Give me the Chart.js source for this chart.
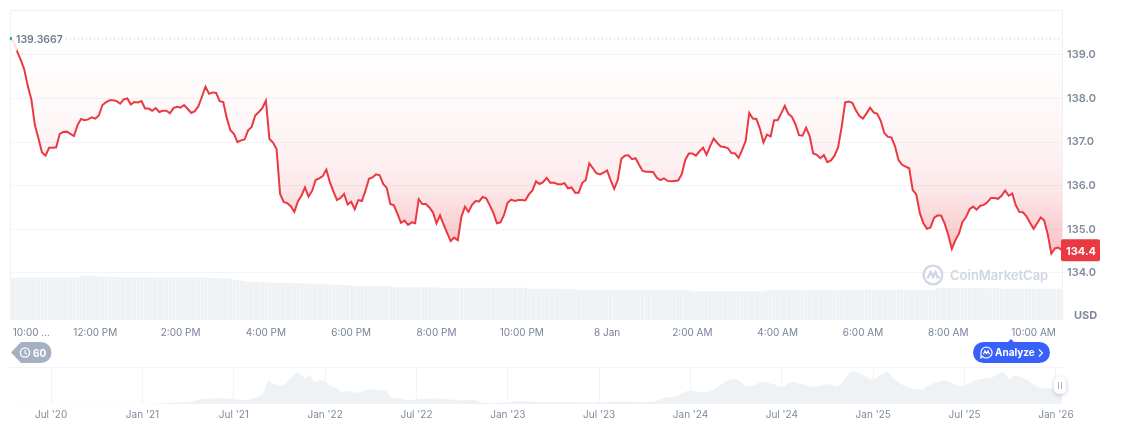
<!DOCTYPE html>
<html>
<head>
<meta charset="utf-8">
<title>Price chart</title>
<script src="https://cdn.jsdelivr.net/npm/chart.js@4"></script>
<style>
  html, body { margin: 0; padding: 0; background: #fff; }
  body { width: 1128px; height: 439px; position: relative; overflow: hidden; font-family: Inter, sans-serif; }
  canvas { position: absolute; left: 0; }
  #main { top: 0; }
  #nav { top: 360px; }
  .abs { position: absolute; white-space: nowrap; }
  #usd { left: 1074px; top: 308px; font-size: 11px; line-height: 14px; font-weight: 700; color: #808a9d; }
  #mark { left: 922px; top: 264px; display: flex; align-items: center; gap: 6px; font-size: 13px; font-weight: 600; color: #cfd6e4; }
  #hist { left: 11px; top: 342px; width: 41px; height: 21px; }
  #histText { left: 33px; top: 342px; line-height: 22px; font-size: 10px; font-weight: 700; color: #fff; }
  #analyze { left: 973px; top: 342px; width: 77px; height: 21px; border-radius: 11px; background: #3861fb; color: #fff; font-size: 10px; font-weight: 700; line-height: 21px; }
  #analyze span { position: absolute; left: 22px; }
  #analyze:before { content: ""; position: absolute; left: 35px; top: -3px; border-left: 3px solid transparent; border-right: 3px solid transparent; border-bottom: 3px solid #3861fb; }
  #handle { left: 1054px; top: 377px; width: 12px; height: 17px; border-radius: 5px; background: #fff; box-shadow: 0 1px 4px rgba(88,102,126,.35); }
  #handle:before, #handle:after { content: ""; position: absolute; top: 5px; width: 1px; height: 7px; background: #a6b0c3; }
  #handle:before { left: 4px; } #handle:after { left: 7px; }
</style>
</head>
<body>
<canvas id="main" width="1128" height="345"></canvas>
<canvas id="nav" width="1128" height="70"></canvas>

<div class="abs" id="usd">USD</div>
<div class="abs" id="mark">
  <svg width="22" height="22" viewBox="0 0 22 22" fill="none" stroke="#cfd6e4" stroke-width="2.2">
    <circle cx="11" cy="11" r="9.4"></circle>
    <path d="M5.5 14.5 L8.6 8 L11 13 L13.5 8 L15.5 13.5 L18 13"></path>
  </svg>
  <span>CoinMarketCap</span>
</div>
<svg class="abs" id="hist" viewBox="0 0 41 21">
  <path d="M10 0 H30 A10.5 10.5 0 0 1 30 21 H10 L0 10.5 Z" fill="#a6b0c3"></path>
  <circle cx="14" cy="10.5" r="4.6" fill="none" stroke="#fff" stroke-width="1.3"></circle>
  <path d="M14 8 V11 L16 12" fill="none" stroke="#fff" stroke-width="1.1"></path>
</svg>
<div class="abs" id="histText">60</div>
<div class="abs" id="analyze">
  <svg style="position:absolute;left:7px;top:4px" width="13" height="13" viewBox="0 0 13 13" fill="none" stroke="#fff" stroke-width="1.2">
    <path d="M6.5 1 A5.5 5.5 0 1 1 2.5 10.3 L1 12 V6.5 A5.5 5.5 0 0 1 6.5 1 Z"></path>
    <path d="M3.5 8.3 L5 4.8 L6.5 7.5 L8 4.8 L9.5 8.3"></path>
  </svg>
  <span>Analyze</span>
  <svg style="position:absolute;left:65px;top:7px" width="6" height="8" viewBox="0 0 6 8" fill="none" stroke="#fff" stroke-width="1.1"><path d="M1 0.5 L4.5 4 L1 7.5"></path></svg>
</div>
<div class="abs" id="handle"></div>

<script>
// one price every 5 minutes
const prices = [
  139.38,139.31,139.08,138.89,138.67,138.29,137.98,137.39,137.09,136.76,136.69,136.87,136.87,136.88,137.19,137.23,137.24,137.19,137.14,137.39,
  137.53,137.50,137.52,137.57,137.54,137.61,137.85,137.91,137.96,137.96,137.94,137.88,137.98,138.00,137.86,137.92,137.91,137.94,137.77,137.77,
  137.72,137.78,137.69,137.72,137.72,137.66,137.78,137.81,137.79,137.85,137.76,137.67,137.71,137.82,138.04,138.27,138.11,138.14,138.13,137.94,
  137.92,137.55,137.27,137.19,137.00,137.04,137.06,137.27,137.35,137.61,137.69,137.78,137.95,137.07,136.99,136.84,135.81,135.63,135.60,135.53,
  135.40,135.64,135.77,135.96,135.75,135.88,136.13,136.17,136.22,136.37,136.08,135.87,135.67,135.72,135.81,135.57,135.63,135.46,135.67,135.65,
  135.88,136.16,136.19,136.26,136.24,136.04,135.95,135.58,135.55,135.36,135.15,135.20,135.10,135.16,135.14,135.69,135.58,135.58,135.50,135.39,
  135.14,135.32,135.11,134.92,134.73,134.81,134.75,135.28,135.52,135.40,135.56,135.65,135.64,135.74,135.71,135.55,135.38,135.14,135.16,135.33,
  135.61,135.68,135.65,135.67,135.67,135.66,135.80,135.89,136.10,136.04,136.08,136.18,136.07,136.07,136.04,136.03,136.06,135.94,135.96,135.84,
  135.84,136.06,136.13,136.51,136.40,136.29,136.26,136.30,136.35,136.13,135.93,136.13,136.62,136.69,136.70,136.61,136.63,136.48,136.34,136.32,
  136.32,136.31,136.18,136.13,136.17,136.11,136.10,136.11,136.12,136.26,136.59,136.74,136.74,136.69,136.79,136.87,136.71,136.91,137.08,136.98,
  136.90,136.89,136.86,136.75,136.74,136.64,136.82,137.03,137.67,137.54,137.53,137.31,136.99,137.17,137.13,137.50,137.50,137.66,137.83,137.65,
  137.58,137.41,137.16,137.15,137.33,137.14,136.74,136.71,136.63,136.70,136.54,136.58,136.69,136.88,137.35,137.91,137.93,137.90,137.73,137.60,
  137.54,137.66,137.79,137.68,137.65,137.49,137.21,137.12,137.11,136.91,136.59,136.48,136.44,136.40,135.90,135.80,135.37,135.14,135.01,135.04,
  135.26,135.32,135.31,135.13,134.87,134.55,134.75,134.90,135.17,135.28,135.46,135.52,135.45,135.54,135.56,135.62,135.72,135.72,135.70,135.77,
  135.89,135.77,135.82,135.55,135.40,135.39,135.30,135.15,135.01,135.14,135.27,135.20,134.88,134.44,134.56,134.58,134.52
];

// relative volume, no scale shown in the picture
const volumes = [
  42,42,42,42,42,42,42,42,42,42,42,42,42,42,42,42,42,42,42,42,
  43.5,43.5,43.5,43.5,43.5,43.5,43,43,43,43,42.5,42.5,42.5,42.5,42.5,42.5,42.5,42.5,42.5,42.5,
  42,42,42,42,42,42,42,42,42,42,42,42,42,42,42,42,42,42,41.5,41.5,
  41.5,41.5,41,40,39.5,39,38.5,37.8,37.8,37.8,37.5,37.5,37.5,37,37,37,37,37,36.8,36.8,
  36.8,36.8,36.5,36.5,36,36,36,36,35.5,35.5,35.5,35,35,35,34.5,34.5,34,34,34,34,
  34,33.5,33.5,33.5,33.5,33.5,33.5,33.5,32.5,32.5,32.5,32.5,32.5,32.5,32.5,32.5,32.5,32.5,32.5,32.5,
  32,32,32,32,32,32,32,32,32,32,32,32,32,32,32,32,32,32,32,32,
  32,32,32,32,32,32,31,31,31,31,31,31,31,31,30.5,30.5,30.5,30.5,30.5,30.5,
  29.5,29.5,29.5,29.5,29.5,29.5,29.5,29.5,29.5,29.5,29.5,29.5,29.5,29.5,30,30,30,30,30,30,
  29.5,29.5,29.5,29.5,29.5,29.5,29.5,29.5,29.5,29.5,29.5,29.5,28.5,28.5,28.5,28.5,28.5,28.5,28.5,28.5,
  28.5,28.5,28.5,28.5,28.5,28.5,28.5,28.5,28.5,28.5,28.5,28.5,28.5,29.5,29.5,29.5,29.5,29.5,29.5,29.5,
  29.5,29.5,29.5,29.5,29.5,29.5,29.5,29.5,29.5,29.5,29.5,29.5,29.5,29.5,29.5,29.5,29.5,30,30,30,
  30,30,30,30,30,30,30,30,30,30,30,30,30,30,30,30,30,30,30,30,
  30,31.5,31.5,31.5,31.5,31.5,31.5,31.5,31.5,31.5,31.5,31.5,31.5,31.5,31.5,31.5,31.5,31.5,31.5,31,
  31,31,31,31,31,31,31,31,31,31,31,31,31,31,31,31,31
];

const openPrice = 139.3667;
const lastPriceLabel = '134.4';
const yTicks = [134, 135, 136, 137, 138, 139];
const timeTicks = { 6: '10:00 ...', 24: '12:00 PM', 48: '2:00 PM', 72: '4:00 PM', 96: '6:00 PM', 120: '8:00 PM', 144: '10:00 PM', 168: '8 Jan', 192: '2:00 AM', 216: '4:00 AM', 240: '6:00 AM', 264: '8:00 AM', 288: '10:00 AM' };

// all-time overview, months counted from Jan 2020
const navMonths = [3.3,5.9,9.2,12.1,13.6,14.5,15.1,15.8,16.7,17.5,18,18.8,19.5,19.9,20.3,20.6,21.3,21.6,22.2,22.7,23,23.3,23.8,24.3,24.8,25.1,25.5,26.2,26.7,27.3,28,28.3,28.9,29.5,30,31.3,32.8,33.9,34.4,36.1,36.5,38.3,40.5,41.6,42.7,45.5,46.4,47,47.9,48.6,49.2,49.9,50.5,51.1,51.6,52,52.7,53.5,54,54.6,55.5,56.2,57,57.7,58.6,59.2,60,60.9,61.4,62.2,63.2,63.6,64.7,65.8,66.9,67.8,68.5,69,69.3,70.2,70.8,71.7,72.4];
const navPrices = [3,1.5,2,2,9,15,21,42,48,48,42,36,60,90,210,177,168,213,279,228,258,198,213,168,138,99,117,99,129,123,117,63,51,36,42,48,33,33,9,15,24,18,18,12,21,21,57,69,120,105,108,162,210,216,165,159,195,174,150,195,168,153,177,159,288,264,219,288,219,153,129,165,207,159,219,237,282,219,255,207,153,138,138];
const navTickMonths = [6,12,18,24,30,36,42,48,54,60,66,72];
const navTickLabels = ["Jul '20","Jan '21","Jul '21","Jan '22","Jul '22","Jan '23","Jul '23","Jan '24","Jul '24","Jan '25","Jul '25","Jan '26"];

const gridColor = '#f3f4f6';
const tickFont = { family: 'Inter', size: 10 };

const frame = {
  id: 'frame',
  beforeDatasetsDraw(chart) {
    const a = chart.chartArea, c = chart.ctx;
    c.save();
    c.strokeStyle = '#eff0f2';
    c.lineWidth = 1;
    c.beginPath();
    c.moveTo(a.left + 0.5, a.bottom);
    c.lineTo(a.left + 0.5, a.top + 0.5);
    c.lineTo(a.right, a.top + 0.5);
    c.stroke();
    c.restore();
  }
};

const markers = {
  id: 'markers',
  afterDatasetsDraw(chart) {
    const c = chart.ctx, y = chart.scales.y;
    const oy = y.getPixelForValue(openPrice);
    c.save();
    // high label sits on a pale box over the line start
    c.fillStyle = 'rgba(255,255,255,0.85)';
    c.fillRect(11, oy - 7, 53, 14);
    c.fillRect(11, oy + 7, 6, 5);
    c.fillStyle = '#16c784';
    c.fillRect(10, oy - 2, 2, 3);
    c.fillStyle = '#6f7a8f';
    c.font = '600 10.5px Inter';
    c.textBaseline = 'middle';
    c.textAlign = 'left';
    c.fillText(openPrice.toFixed(4), 16, oy + 1);
    // last price badge
    const ly = y.getPixelForValue(prices[prices.length - 1]);
    c.fillStyle = '#ea3943';
    c.beginPath();
    c.roundRect(1061, ly - 11, 39, 22, 2);
    c.fill();
    c.fillStyle = '#fff';
    c.font = '700 11px Inter';
    c.fillText(lastPriceLabel, 1066, ly + 1);
    c.restore();
  }
};

new Chart(document.getElementById('main'), {
  type: 'bar',
  data: {
    labels: prices.map((p, i) => i),
    datasets: [
      {
        type: 'line',
        data: prices,
        borderColor: '#ea3943',
        borderWidth: 2,
        pointRadius: 0,
        tension: 0,
        fill: { value: openPrice },
        backgroundColor(ctx) {
          const chart = ctx.chart;
          if (!chart.chartArea) return 'transparent';
          const y = chart.scales.y;
          const g = chart.ctx.createLinearGradient(0, y.getPixelForValue(openPrice), 0, y.getPixelForValue(Math.min(...prices)));
          g.addColorStop(0, 'rgba(234,57,67,0)');
          g.addColorStop(0.25, 'rgba(234,57,67,0.025)');
          g.addColorStop(0.56, 'rgba(234,57,67,0.07)');
          g.addColorStop(0.72, 'rgba(234,57,67,0.13)');
          g.addColorStop(0.87, 'rgba(234,57,67,0.23)');
          g.addColorStop(1, 'rgba(234,57,67,0.3)');
          return g;
        },
        yAxisID: 'y',
        order: 1
      },
      {
        type: 'line',
        data: prices.map(() => openPrice),
        borderColor: '#b4bac6',
        borderWidth: 1,
        borderDash: [1, 3],
        pointRadius: 0,
        fill: false,
        yAxisID: 'y',
        order: 2
      },
      {
        type: 'bar',
        data: volumes,
        backgroundColor: '#eff2f5',
        barThickness: 2.7,
        yAxisID: 'yVol',
        order: 3
      }
    ]
  },
  plugins: [frame, markers],
  options: {
    responsive: false,
    animation: false,
    events: [],
    layout: { padding: { left: 10, top: 10, right: 0, bottom: 0 } },
    plugins: { legend: { display: false }, tooltip: { enabled: false } },
    scales: {
      x: {
        offset: false,
        grid: { display: false, drawTicks: false, tickLength: 0 },
        border: { display: false },
        afterFit(s) { s.height = 25; s.paddingLeft = 0; s.paddingRight = 0; },
        ticks: {
          autoSkip: false,
          maxRotation: 0,
          padding: 7,
          color: '#78839a',
          font: tickFont,
          callback(v) { return timeTicks[v]; }
        }
      },
      y: {
        position: 'right',
        min: 132.92,
        max: 140.03,
        grid: { color: gridColor, drawTicks: false },
        border: { color: '#eff0f2' },
        afterFit(s) { s.width = 66; s.paddingTop = 0; s.paddingBottom = 0; },
        afterBuildTicks(s) { s.ticks = yTicks.map(v => ({ value: v })); },
        ticks: {
          padding: 5,
          color: '#808a9d',
          font: { family: 'Inter', size: 11, weight: '600' },
          callback(v) { return v.toFixed(1); }
        }
      },
      yVol: { display: false, min: 0, max: 310 }
    }
  }
});

new Chart(document.getElementById('nav'), {
  type: 'line',
  data: {
    datasets: [{
      data: navMonths.map((m, i) => ({ x: m, y: navPrices[i] })),
      borderWidth: 0,
      pointRadius: 0,
      tension: 0.3,
      fill: 'origin',
      backgroundColor: '#eff2f5'
    }]
  },
  plugins: [{
    id: 'navTop',
    beforeDatasetsDraw(chart) {
      const a = chart.chartArea, c = chart.ctx;
      c.save();
      c.strokeStyle = gridColor;
      c.beginPath();
      c.moveTo(a.left, a.top + 0.5);
      c.lineTo(a.right, a.top + 0.5);
      c.stroke();
      c.restore();
    }
  }],
  options: {
    responsive: false,
    animation: false,
    events: [],
    layout: { padding: { left: 10, top: 7, right: 66, bottom: 0 } },
    plugins: { legend: { display: false }, tooltip: { enabled: false } },
    scales: {
      x: {
        type: 'linear',
        min: 3.3,
        max: 72.4,
        grid: { color: gridColor, drawTicks: false },
        border: { display: false },
        afterFit(s) { s.height = 26; s.paddingLeft = 0; s.paddingRight = 0; },
        afterBuildTicks(s) { s.ticks = navTickMonths.map(v => ({ value: v })); },
        ticks: {
          autoSkip: false,
          maxRotation: 0,
          padding: 5,
          color: '#808a9d',
          font: tickFont,
          callback(v, i) { return navTickLabels[i]; }
        }
      },
      y: { display: false, min: 0, max: 328 }
    }
  }
});
</script>
</body>
</html>
